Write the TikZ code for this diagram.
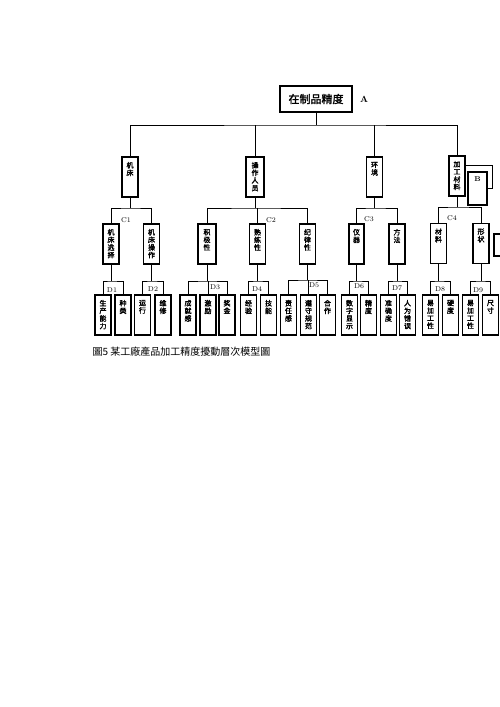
\documentclass[tikz,border=0pt]{standalone}
\usepackage{fontspec}
\newfontfamily\cjk[AutoFakeBold=2]{Noto Sans CJK SC}
\usepackage{tikz}
\usetikzlibrary{positioning}

% vertical text, one character per line, set from the top
\newcommand{\vtxt}[2][30pt]{\parbox[t][#1][t]{8pt}{\centering #2}}

\begin{document}
\begin{tikzpicture}[x=1pt, y=-1pt, line width=1pt,
  box/.style={draw, line width=1.2pt, inner sep=0pt, minimum width=16pt, minimum height=40pt,
              font=\cjk\bfseries\fontsize{7}{7.6}\selectfont},
  tag/.style={inner sep=0pt, font=\fontsize{7}{8}\selectfont}]
  \useasboundingbox (0,0) rectangle (500,707);

  % goal A
  \node[box, minimum width=72pt, minimum height=26pt, font=\cjk\bfseries\fontsize{11}{12}\selectfont]
    (A) at (316,99) {在制品精度};
  \node[tag, font=\bfseries\fontsize{9}{10}\selectfont, right=7pt of A] (tA) {A};

  % criteria B
  \node[box] (b1) at (130,177) {\vtxt{机\\床}};
  \node[box, minimum width=18pt] (b2) at (255,177) {\vtxt{操\\作\\人\\员}};
  \node[box] (b3) at (374.5,177) {\vtxt{环\\境}};
  \node[box] (b4) at (457,176) {\vtxt{加\\工\\材\\料}};
  \node[box, minimum width=19pt, minimum height=33pt, font=\bfseries\fontsize{7}{8}\selectfont]
    (bB) at (477.5,188.5) {\parbox[t][24pt][t]{8pt}{\centering B}};
  \coordinate (jB) at (492,165);
  \draw (b4.east |- jB) -- (jB) |- (bB.east);

  \coordinate (jA) at (316,125);
  \draw (A) -- (jA);
  \draw (b1.north) |- (jA) -| (b4.north);
  \draw (b2.north) -- (b2.north |- jA);
  \draw (b3.north) -- (b3.north |- jA);

  % sub-criteria C
  \node[box] (c11) at (111,244) {\vtxt{机\\床\\选\\择}};
  \node[box] (c12) at (151.5,244) {\vtxt{机\\床\\操\\作}};
  \node[box, minimum width=18pt] (c21) at (207,244) {\vtxt{积\\极\\性}};
  \node[box] (c22) at (257.5,244) {\vtxt{熟\\练\\性}};
  \node[box] (c23) at (307.5,244) {\vtxt{纪\\律\\性}};
  \node[box, minimum width=15pt] (c31) at (356.5,244) {\vtxt{仪\\器}};
  \node[box] (c32) at (397,244) {\vtxt{方\\法}};
  \node[box] (c41) at (438.5,243.5) {\vtxt{材\\料}};
  \node[box] (c42) at (481,243.5) {\vtxt{形\\状}};
  \draw[line width=1.2pt] (494,234) rectangle (510,256);

  \coordinate (j1) at (130,208);
  \coordinate (j2) at (255,208);
  \coordinate (j3) at (374.5,208);
  \coordinate (j4) at (457,207);
  \draw (b1) -- (j1); \draw (c11.north) |- (j1) -| (c12.north);
  \draw (b2) -- (j2); \draw (c21.north) |- (j2) -| (c23.north);
  \draw (c22.north) -- (c22.north |- j2);
  \draw (b3) -- (j3); \draw (c31.north) |- (j3) -| (c32.north);
  \draw (b4) -- (j4); \draw (c41.north) |- (j4) -| (c42.north);

  \node[tag] (tC1) at (126,220) {C1};
  \node[tag] (tC2) at (271,220) {C2};
  \node[tag] (tC3) at (369,219) {C3};
  \node[tag] (tC4) at (452,218) {C4};

  % factors D
  \node[box] (d11) at (103,315) {\vtxt{生\\产\\能\\力}};
  \node[box] (d12) at (123,315) {\vtxt{种\\类}};
  \node[box] (d21) at (142.5,315) {\vtxt{运\\行}};
  \node[box] (d22) at (163,315) {\vtxt{维\\修}};
  \node[box] (d31) at (188,315) {\vtxt{成\\就\\感}};
  \node[box] (d32) at (208,315) {\vtxt{激\\励}};
  \node[box] (d33) at (227,315) {\vtxt{奖\\金}};
  \node[box] (d41) at (248.5,315) {\vtxt{经\\验}};
  \node[box] (d42) at (268.5,315) {\vtxt{技\\能}};
  \node[box] (d51) at (288.5,315) {\vtxt{责\\任\\感}};
  \node[box] (d52) at (308.5,315) {\vtxt{遵\\守\\规\\范}};
  \node[box] (d53) at (327.5,315) {\vtxt{合\\作}};
  \node[box] (d61) at (349.5,315) {\vtxt{数\\字\\显\\示}};
  \node[box] (d62) at (368.5,315) {\vtxt{精\\度}};
  \node[box] (d71) at (388.5,315) {\vtxt{准\\确\\度}};
  \node[box] (d72) at (407.5,315) {\vtxt{人\\为\\错\\误}};
  \node[box] (d81) at (430.5,315) {\vtxt{易\\加\\工\\性}};
  \node[box] (d82) at (450.5,315) {\vtxt{硬\\度}};
  \node[box] (d91) at (470.5,315) {\vtxt{易\\加\\工\\性}};
  \node[box] (d92) at (490.5,315) {\vtxt{尺\\寸}};

  \coordinate (k1) at (111,281);
  \coordinate (k2) at (151.5,281);
  \coordinate (k3) at (207,281);
  \coordinate (k4) at (257.5,281);
  \coordinate (k5) at (307.5,280);
  \coordinate (k6) at (356.5,281);
  \coordinate (k7) at (397,281);
  \coordinate (k8) at (438.5,281);
  \coordinate (k9) at (481,281);
  \draw (c11) -- (k1); \draw (d11.north) |- (k1) -| (d12.north);
  \draw (c12) -- (k2); \draw (d21.north) |- (k2) -| (d22.north);
  \draw (c21) -- (k3); \draw (d31.north) |- (k3) -| (d33.north);
  \draw (d32.north) -- (d32.north |- k3);
  \draw (c22) -- (k4); \draw (d41.north) |- (k4) -| (d42.north);
  \draw (c23) -- (k5); \draw (d51.north) |- (k5) -| (d53.north);
  \draw (d52.north) -- (d52.north |- k5);
  \draw (c31) -- (k6); \draw (d61.north) |- (k6) -| (d62.north);
  \draw (c32) -- (k7); \draw (d71.north) |- (k7) -| (d72.north);
  \draw (c41) -- (k8); \draw (d81.north) |- (k8) -| (d82.north);
  \draw (c42) -- (k9); \draw (d91.north) |- (k9) -| (d92.north);

  \node[tag] (tD1) at (112,290) {D1};
  \node[tag] (tD2) at (153,289) {D2};
  \node[tag] (tD3) at (215,287) {D3};
  \node[tag] (tD4) at (257,289) {D4};
  \node[tag] (tD5) at (314,285) {D5};
  \node[tag] (tD6) at (359,286) {D6};
  \node[tag] (tD7) at (397,288) {D7};
  \node[tag] (tD8) at (440,289) {D8};
  \node[tag] (tD9) at (478,290) {D9};

  % caption
  \node[anchor=west, inner sep=0pt, font=\cjk\fontsize{10}{12}\selectfont] (cap) at (92,352)
    {圖5 某工廠產品加工精度擾動層次模型圖};
\end{tikzpicture}
\end{document}
